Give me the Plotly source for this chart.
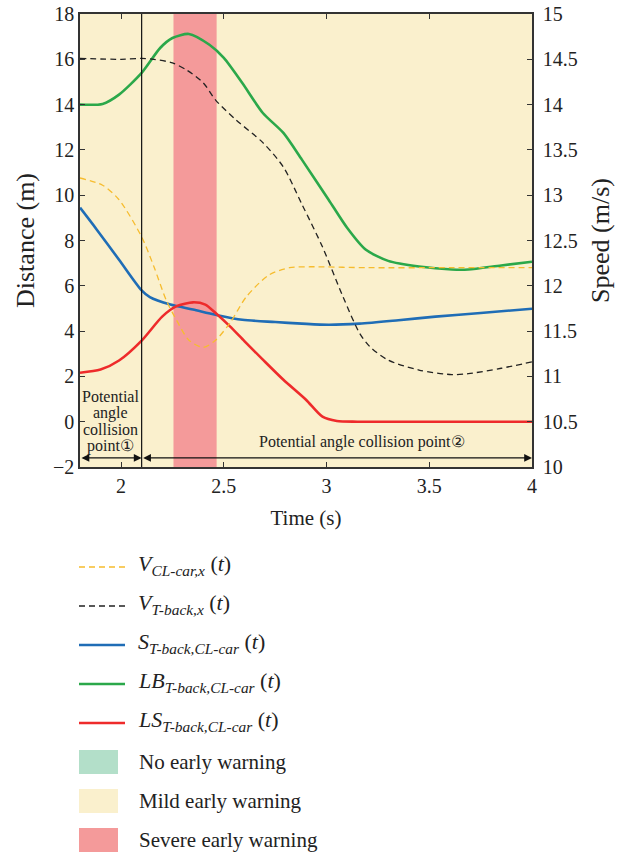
import plotly.graph_objects as go

# ---- data ----
t_lb = [1.8, 1.91, 1.99, 2.1, 2.19, 2.25, 2.33, 2.43, 2.5, 2.59, 2.69, 2.79, 2.88, 3.01, 3.1, 3.19, 3.3, 3.45, 3.61, 3.69, 3.85, 4.0]
lb = [14.0, 14.03, 14.44, 15.4, 16.5, 16.94, 17.12, 16.64, 16.06, 14.95, 13.63, 12.75, 11.57, 9.8, 8.56, 7.6, 7.1, 6.85, 6.72, 6.72, 6.9, 7.06]

t_s = [1.8, 1.88, 1.99, 2.1, 2.14, 2.24, 2.35, 2.46, 2.59, 2.75, 2.88, 3.01, 3.16, 3.35, 3.53, 3.75, 4.0]
s = [9.45, 8.5, 7.15, 5.8, 5.5, 5.17, 4.95, 4.72, 4.5, 4.4, 4.33, 4.28, 4.33, 4.48, 4.64, 4.8, 4.99]

t_ls = [1.8, 1.9, 1.99, 2.1, 2.2, 2.27, 2.35, 2.41, 2.46, 2.53, 2.6, 2.69, 2.79, 2.9, 2.98, 3.05, 3.15, 3.5, 4.0]
ls = [2.16, 2.3, 2.7, 3.58, 4.64, 5.1, 5.27, 5.17, 4.8, 4.21, 3.56, 2.74, 1.85, 0.97, 0.22, 0.03, 0.0, 0.0, 0.0]

t_vcl = [1.8, 1.91, 1.99, 2.1, 2.16, 2.22, 2.27, 2.33, 2.4, 2.46, 2.53, 2.61, 2.72, 2.82, 2.92, 3.2, 3.6, 4.0]
v_cl = [13.19, 13.11, 12.95, 12.54, 12.21, 11.84, 11.62, 11.4, 11.32, 11.4, 11.59, 11.88, 12.12, 12.2, 12.21, 12.2, 12.2, 12.2]

t_vt = [1.8, 2.0, 2.1, 2.16, 2.25, 2.32, 2.4, 2.46, 2.56, 2.69, 2.79, 2.88, 2.98, 3.08, 3.16, 3.21, 3.3, 3.45, 3.61, 3.69, 3.85, 4.0]
v_t = [14.51, 14.5, 14.51, 14.5, 14.46, 14.38, 14.24, 14.05, 13.83, 13.58, 13.31, 12.9, 12.43, 11.88, 11.48, 11.33, 11.18, 11.07, 11.02, 11.03, 11.09, 11.16]

severe_band = [2.255, 2.465]
split_t = 2.1
arrow_y = -1.6

x_ticks = [2, 2.5, 3, 3.5, 4]
y_left_ticks = [18, 16, 14, 12, 10, 8, 6, 4, 2, 0, -2]
y_right_ticks = [15, 14.5, 14, 13.5, 13, 12.5, 12, 11.5, 11, 10.5, 10]

# ---- style ----
FONT = "Liberation Serif"
YEL = "#F6BC2E"
BLK = "#222222"
BLUE = "#1F6DB6"
GREEN = "#2BA84A"
RED = "#EE2B2B"
MILD = "#FAF0CD"
SEVERE = "#F49A9A"
NOWARN = "#B3DFC9"
TXT = "#222222"

W, H = 624, 856
L, R, T, B = 80, 92, 14, 389
pw, ph = W - L - R, H - T - B


def px2paper(px, py):
    return (px - L) / pw, (H - B - py) / ph


fig = go.Figure()
fig.add_trace(go.Scatter(x=t_vcl, y=v_cl, yaxis="y2", mode="lines",
                         line=dict(color=YEL, width=1.3, dash="6px,4px", shape="spline", smoothing=0.8)))
fig.add_trace(go.Scatter(x=t_vt, y=v_t, yaxis="y2", mode="lines",
                         line=dict(color=BLK, width=1.3, dash="6px,4px", shape="spline", smoothing=0.8)))
fig.add_trace(go.Scatter(x=t_s, y=s, mode="lines",
                         line=dict(color=BLUE, width=2.6, shape="spline", smoothing=0.8)))
fig.add_trace(go.Scatter(x=t_lb, y=lb, mode="lines",
                         line=dict(color=GREEN, width=2.6, shape="spline", smoothing=0.7)))
fig.add_trace(go.Scatter(x=t_ls, y=ls, mode="lines",
                         line=dict(color=RED, width=2.6, shape="spline", smoothing=0.7)))

shapes = [
    dict(type="rect", xref="x", yref="paper", x0=severe_band[0], x1=severe_band[1], y0=0, y1=1,
         fillcolor=SEVERE, line=dict(width=0), layer="below"),
    dict(type="line", xref="x", yref="paper", x0=split_t, x1=split_t, y0=0, y1=1,
         line=dict(color="#111", width=1.2)),
]

annotations = [
    dict(x=split_t, y=arrow_y, ax=1.8, ay=arrow_y, xref="x", yref="y", axref="x", ayref="y",
         showarrow=True, arrowhead=2, startarrowhead=2, arrowside="end+start", arrowsize=1.2,
         arrowwidth=1.3, arrowcolor="#111", text=""),
    dict(x=4.0, y=arrow_y, ax=split_t, ay=arrow_y, xref="x", yref="y", axref="x", ayref="y",
         showarrow=True, arrowhead=2, startarrowhead=2, arrowside="end+start", arrowsize=1.2,
         arrowwidth=1.3, arrowcolor="#111", text=""),
]

# text labels in the plot (one annotation per line for tight line spacing)
label1_lines = ["Potential", "angle", "collision", "point\u2460"]
for k, line in enumerate(label1_lines):
    xp, yp = px2paper(110, 396 + k * 16.5)
    annotations.append(dict(x=xp, y=yp, xref="paper", yref="paper", showarrow=False,
                            xanchor="center", yanchor="middle", text=line,
                            font=dict(family=FONT, size=16, color=TXT)))
xp, yp = px2paper(362, 442)
annotations.append(dict(x=xp, y=yp, xref="paper", yref="paper", showarrow=False,
                        xanchor="center", yanchor="middle", text="Potential angle collision point\u2461",
                        font=dict(family=FONT, size=16, color=TXT)))

# ---- manual legend ----
legend_lines = [
    ("<i>V</i><sub><i>CL-car,x</i></sub> (<i>t</i>)", YEL, "dash", 1.3),
    ("<i>V</i><sub><i>T-back,x</i></sub> (<i>t</i>)", BLK, "dash", 1.3),
    ("<i>S</i><sub><i>T-back,CL-car</i></sub> (<i>t</i>)", BLUE, "solid", 2.6),
    ("<i>LB</i><sub><i>T-back,CL-car</i></sub> (<i>t</i>)", GREEN, "solid", 2.6),
    ("<i>LS</i><sub><i>T-back,CL-car</i></sub> (<i>t</i>)", RED, "solid", 2.6),
]
legend_patches = [
    ("No early warning", NOWARN),
    ("Mild early warning", MILD),
    ("Severe early warning", SEVERE),
]
y0 = 567
step = 39
for i, (txt, col, dash, w) in enumerate(legend_lines):
    py = y0 + i * step
    xa, ya = px2paper(79, py)
    xb, _ = px2paper(125, py)
    shapes.append(dict(type="line", xref="paper", yref="paper", x0=xa, x1=xb, y0=ya, y1=ya,
                       line=dict(color=col, width=w, dash="6px,4px" if dash == "dash" else "solid")))
    xt, yt = px2paper(136, py - 2)
    annotations.append(dict(x=xt, y=yt, xref="paper", yref="paper", xanchor="left", yanchor="middle",
                            showarrow=False, text=txt, font=dict(family=FONT, size=22, color=TXT)))
for j, (txt, col) in enumerate(legend_patches):
    py = y0 + (len(legend_lines) + j) * step
    xa, ya = px2paper(79, py - 12)
    xb, yb = px2paper(118, py + 12)
    shapes.append(dict(type="rect", xref="paper", yref="paper", x0=xa, x1=xb, y0=yb, y1=ya,
                       fillcolor=col, line=dict(width=0)))
    xt, yt = px2paper(137, py)
    annotations.append(dict(x=xt, y=yt, xref="paper", yref="paper", xanchor="left", yanchor="middle",
                            showarrow=False, text=txt, font=dict(family=FONT, size=21, color=TXT)))

axis_common = dict(showgrid=False, zeroline=False, ticks="inside", ticklen=5, tickwidth=1.2,
                   tickcolor="#333", linecolor="#333", linewidth=1.5, showline=True, automargin=False,
                   tickfont=dict(family=FONT, size=20, color=TXT))

fig.update_layout(
    width=W, height=H,
    margin=dict(l=L, r=R, t=T, b=B),
    paper_bgcolor="white",
    plot_bgcolor=MILD,
    showlegend=False,
    font=dict(family=FONT, color=TXT),
    xaxis=dict(range=[1.8, 4.0], tickvals=x_ticks, ticktext=["2", "2.5", "3", "3.5", "4"], mirror="ticks",
               title=dict(text="Time (s)", font=dict(family=FONT, size=21), standoff=15), **axis_common),
    yaxis=dict(range=[-2, 18], tickvals=y_left_ticks,
               ticktext=[str(v) if v >= 0 else "\u2212" + str(-v) for v in y_left_ticks],
               title=dict(text="Distance (m)", font=dict(family=FONT, size=26), standoff=11), **axis_common),
    yaxis2=dict(range=[10, 15], overlaying="y", side="right", tickvals=y_right_ticks,
                ticktext=[("%g" % v) for v in y_right_ticks], ticklabelstandoff=5,
                title=dict(text="Speed (m/s)", font=dict(family=FONT, size=26), standoff=14), **axis_common),
    shapes=shapes,
    annotations=annotations,
)

fig.write_html("out.html", config={"displayModeBar": False},
               post_script="document.body.style.margin='0px';")
